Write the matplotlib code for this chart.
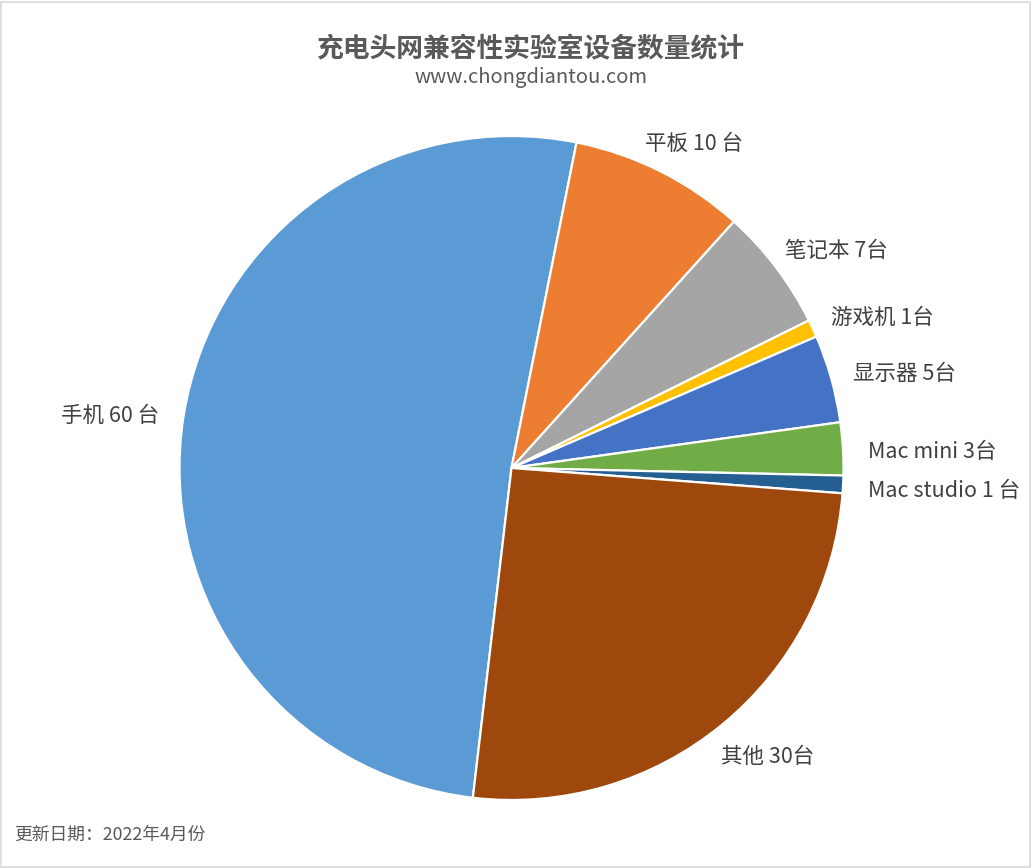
import matplotlib
matplotlib.use("Agg")
import matplotlib.pyplot as plt
import numpy as np
from matplotlib.patches import Rectangle

plt.rcParams["font.family"] = ["Noto Sans CJK SC", "DejaVu Sans"]

categories = ["手机", "平板", "笔记本", "游戏机", "显示器", "Mac mini", "Mac studio", "其他"]
counts = [60, 10, 7, 1, 5, 3, 1, 30]
label_texts = ["手机 60 台", "平板 10 台", "笔记本 7台", "游戏机 1台", "显示器 5台",
               "Mac mini 3台", "Mac studio 1 台", "其他 30台"]
colors = ["#5B9BD5", "#ED7D31", "#A5A5A5", "#FFC000", "#4472C4", "#70AD47", "#255E91", "#9E480E"]

W, H = 1032, 868
fig = plt.figure(figsize=(W / 100, H / 100), dpi=100)
ax = fig.add_axes([0, 0, 1, 1])

cx, cy, R = 511.5, H - 468, 332
first_angle = 78.7 + counts[0] / sum(counts) * 360
wedges, _ = ax.pie(
    counts, colors=colors, startangle=first_angle, counterclock=False,
    center=(cx, cy), radius=R,
    wedgeprops=dict(edgecolor="white", linewidth=1.6),
)
ax.set_xlim(0, W)
ax.set_ylim(0, H)
ax.set_aspect("equal")
ax.axis("off")

# labels: nearest box point sits just outside the rim (excel-like)
label_r = R * 1.075
texts, mids = [], []
for w, lab in zip(wedges, label_texts):
    mid = np.deg2rad((w.theta1 + w.theta2) / 2)
    t = ax.text(cx + label_r * np.cos(mid), cy + label_r * np.sin(mid), lab,
                ha="left", va="bottom", fontsize=15.5, color="#404040")
    texts.append(t)
    mids.append(mid)

fig.canvas.draw()
renderer = fig.canvas.get_renderer()
inv = ax.transData.inverted()
for t, mid in zip(texts, mids):
    bb = t.get_window_extent(renderer)
    px, py = ax.transData.transform(t.get_position())
    fx = (1 - np.cos(mid)) / 2
    fy = (1 - np.sin(mid)) / 2
    # bbox includes descent, so nudge down a little
    t.set_position(inv.transform((px - fx * bb.width, py - fy * bb.height - 5)))

title_x = 531 / W
fig.text(title_x, 1 - 49 / H, "充电头网兼容性实验室设备数量统计", ha="center", va="center",
         fontsize=19.3, fontweight="bold", color="#595959")
fig.text(title_x, 1 - 78 / H, "www.chongdiantou.com", ha="center", va="center",
         fontsize=14.5, color="#595959")
fig.text(14 / W, 1 - 835 / H, "更新日期：2022年4月份", ha="left", va="center",
         fontsize=12.8, color="#595959")

fig.patches.append(Rectangle((1 / W, 1 / H), 1 - 3 / W, 1 - 3 / H, transform=fig.transFigure,
                             fill=False, edgecolor="#D9D9D9", linewidth=1.2))

fig.savefig("out.png", dpi=100)
